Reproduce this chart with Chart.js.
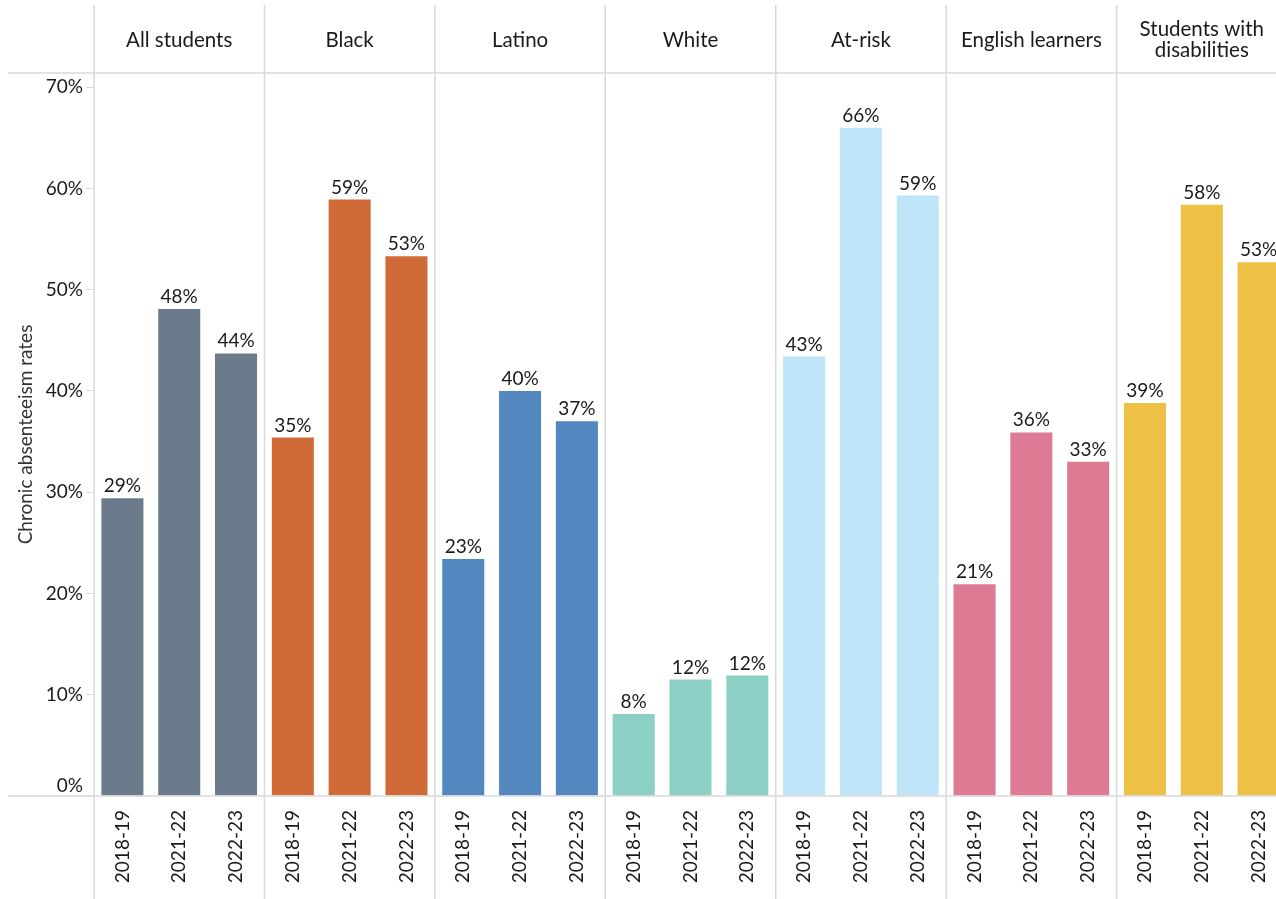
<!DOCTYPE html>
<html>
<head>
<meta charset="utf-8">
<script src="https://cdn.jsdelivr.net/npm/chart.js@4"></script>
<style>
  html, body { margin: 0; padding: 0; background: #fff; overflow: hidden; }
  #wrap { width: 1288px; height: 899px; }
</style>
</head>
<body>
<div id="wrap"><canvas id="absenceChart" width="1288" height="899"></canvas></div>
<script>
// Kelompok siswa dan tahun ajaran
const groups = ['All students', 'Black', 'Latino', 'White', 'At-risk', 'English learners', ['Students with', 'disabilities']];
const years = ['2018-19', '2021-22', '2022-23'];

// Tingkat ketidakhadiran kronis (%) per kelompok
const allStudents = [29.4, 48.1, 43.7];
const black = [35.4, 58.9, 53.3];
const latino = [23.4, 40.0, 37.0];
const white = [8.1, 11.5, 11.9];
const atRisk = [43.4, 66.0, 59.3];
const englishLearners = [20.9, 35.9, 33.0];
const disabilities = [38.8, 58.4, 52.7];

const yTicks = [0, 10, 20, 30, 40, 50, 60, 70];
const groupColors = ['#6b7b8b', '#d06b38', '#5287c0', '#8ccfc4', '#bee6f8', '#dc7b93', '#eec146'];

const series = [allStudents, black, latino, white, atRisk, englishLearners, disabilities];
const labels = [];
const values = [];
const colors = [];
series.forEach((s, g) => {
    s.forEach((v, i) => {
        labels.push(years[i]);
        values.push(v);
        colors.push(groupColors[g]);
    });
});

const FONT = 'Lato, "Open Sans", sans-serif';
const TEXT = '#1a1a1a';
const LINE = '#d9d9d9';

// Header kelompok, garis pemisah, label sumbu Y dan label nilai
const decorations = {
    id: 'decorations',
    afterDraw(chart) {
        const c = chart.ctx;
        const area = chart.chartArea;
        const x = chart.scales.x;
        const y = chart.scales.y;
        const catW = (x.right - x.left) / labels.length;

        c.save();
        c.strokeStyle = LINE;
        c.lineWidth = 1.5;
        // garis horizontal atas dan bawah
        [area.top, area.bottom].forEach(py => {
            c.beginPath();
            c.moveTo(8, py);
            c.lineTo(chart.width, py);
            c.stroke();
        });
        // garis vertikal antar kelompok
        for (let k = 0; k <= groups.length; k++) {
            const px = x.left + k * 3 * catW;
            c.beginPath();
            c.moveTo(px, 5);
            c.lineTo(px, chart.height);
            c.stroke();
        }

        // nama kelompok
        c.fillStyle = TEXT;
        c.font = '20.5px ' + FONT;
        c.textAlign = 'center';
        c.textBaseline = 'middle';
        groups.forEach((name, g) => {
            const cx = x.left + (g * 3 + 1.5) * catW;
            if (Array.isArray(name)) {
                c.fillText(name[0], cx, 29);
                c.fillText(name[1], cx, 50);
            } else {
                c.fillText(name, cx, 40);
            }
        });

        // label sumbu Y
        c.font = '19px ' + FONT;
        c.textAlign = 'right';
        yTicks.forEach(v => {
            const py = y.getPixelForValue(v);
            c.fillText(v + '%', 83, v === 0 ? py - 10 : py);
        });

        // label nilai di atas batang
        c.textAlign = 'center';
        c.textBaseline = 'alphabetic';
        const meta = chart.getDatasetMeta(0);
        meta.data.forEach((bar, i) => {
            c.fillText(Math.round(values[i]) + '%', bar.x, bar.y - 6);
        });
        c.restore();
    }
};

const ctx = document.getElementById('absenceChart').getContext('2d');
const absenceChart = new Chart(ctx, {
    type: 'bar',
    data: {
        labels: labels,
        datasets: [{
            data: values,
            backgroundColor: colors,
            borderWidth: 0,
            barPercentage: 0.74,
            categoryPercentage: 1
        }]
    },
    options: {
        responsive: false,
        animation: false,
        layout: { padding: { top: 73, left: 14, right: 1, bottom: 0 } },
        scales: {
            x: {
                grid: { display: false },
                border: { display: false },
                ticks: {
                    minRotation: 90,
                    maxRotation: 90,
                    autoSkip: false,
                    padding: 6,
                    color: TEXT,
                    font: { family: FONT, size: 19 }
                },
                afterFit(scale) { scale.height = 103; }
            },
            y: {
                min: 0,
                max: 71.4,
                grid: { drawOnChartArea: false, tickLength: 8, color: LINE },
                border: { display: false },
                ticks: { display: false, stepSize: 10 },
                title: {
                    display: true,
                    text: 'Chronic absenteeism rates',
                    color: '#333',
                    padding: { top: 0, bottom: 0 },
                    font: { family: FONT, size: 19 }
                },
                afterBuildTicks(scale) {
                    scale.ticks = scale.ticks.filter(t => t.value % 10 === 0);
                },
                afterFit(scale) { scale.width = 80; }
            }
        },
        plugins: {
            legend: { display: false },
            tooltip: { enabled: false }
        }
    },
    plugins: [decorations]
});
</script>
</body>
</html>
